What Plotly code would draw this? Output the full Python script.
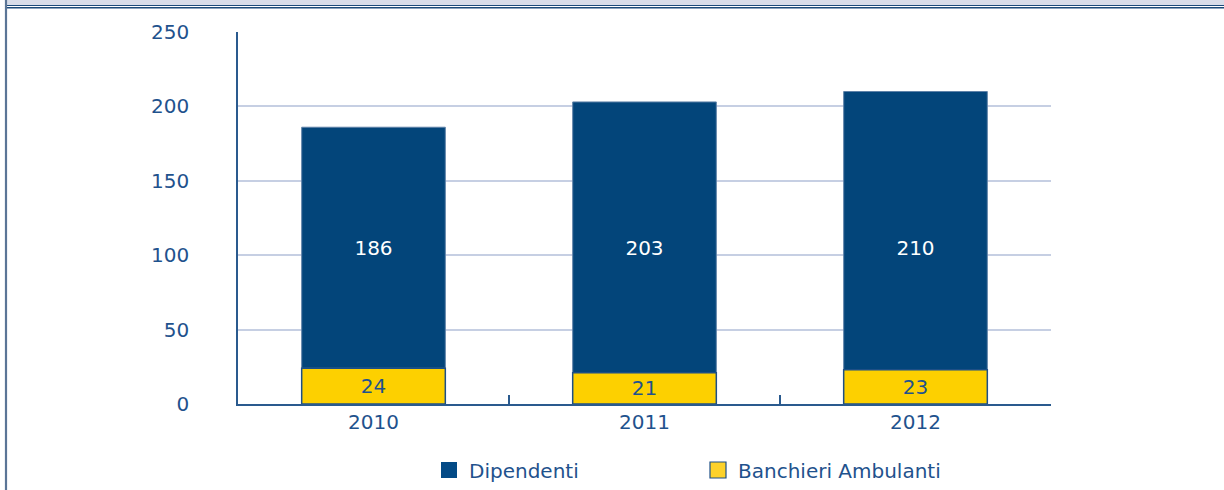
import plotly.graph_objects as go

years = ["2010", "2011", "2012"]
dipendenti = [186, 203, 210]
banchieri = [24, 21, 23]
y_ticks = [0, 50, 100, 150, 200, 250]
label_level = 103.5  # height (axis units) where the Dipendenti labels sit

W, H = 1224, 490
L, R, T, B = 238, 1051, 32, 404

BLUE = "#03457a"
YELLOW = "#fdd000"
TEXT = "#1f528d"
GRID = "#c6cfe3"
AXIS = "#2a5a8e"
FONT = "DejaVu Sans"
FS = 20


def px(x):
    return (x - L) / (R - L)


def py(y):
    return (B - y) / (B - T)


fig = go.Figure()

fig.add_trace(go.Bar(
    x=years,
    y=[d - b for d, b in zip(dipendenti, banchieri)],
    base=banchieri,
    marker=dict(color=BLUE, line=dict(color="#5f82a8", width=1)),
    width=0.53,
    showlegend=False,
    hoverinfo="skip",
))
fig.add_trace(go.Bar(
    x=years,
    y=banchieri,
    text=[str(v) for v in banchieri],
    textposition="inside",
    insidetextanchor="middle",
    textfont=dict(color=TEXT, size=FS, family=FONT),
    marker=dict(color=YELLOW, line=dict(color="#1d4f86", width=1.5)),
    width=0.53,
    showlegend=False,
    hoverinfo="skip",
))
fig.add_trace(go.Scatter(
    x=years,
    y=[label_level] * len(years),
    text=[str(v) for v in dipendenti],
    mode="text",
    textposition="middle center",
    textfont=dict(color="white", size=FS, family=FONT),
    showlegend=False,
    hoverinfo="skip",
))

# legend entries
fig.add_trace(go.Scatter(
    x=[None], y=[None], mode="markers", name="Dipendenti",
    marker=dict(symbol="square", size=17, color="#034a86", line=dict(width=0)),
))
fig.add_trace(go.Scatter(
    x=[None], y=[None], mode="markers", name="Banchieri Ambulanti",
    marker=dict(symbol="square", size=16, color="#fdd22a", line=dict(color="#1d4f86", width=1.2)),
))

shapes = [
    # top band
    dict(type="rect", xref="paper", yref="paper", x0=px(7), x1=px(W), y0=py(5), y1=py(0),
         fillcolor="#d8dde9", line=dict(width=0), layer="above"),
    dict(type="line", xref="paper", yref="paper", x0=px(7), x1=px(W), y0=py(5.5), y1=py(5.5),
         line=dict(color="#1b4a7a", width=1.2), layer="above"),
    dict(type="line", xref="paper", yref="paper", x0=px(7), x1=px(W), y0=py(7.8), y1=py(7.8),
         line=dict(color="#1b4a7a", width=1.6), layer="above"),
    # left border
    dict(type="line", xref="paper", yref="paper", x0=px(6), x1=px(6), y0=py(0), y1=py(H),
         line=dict(color="#5b7596", width=2.2), layer="above"),
]

fig.update_layout(
    width=W, height=H,
    margin=dict(l=L, r=W - R, t=T, b=H - B, pad=0, autoexpand=False),
    paper_bgcolor="white",
    plot_bgcolor="white",
    barmode="overlay",
    bargap=0.47,
    font=dict(family=FONT, size=FS, color=TEXT),
    shapes=shapes,
    showlegend=True,
    legend=dict(
        orientation="h",
        x=px(429), xanchor="left",
        y=py(470), yanchor="middle",
        font=dict(family=FONT, size=FS, color=TEXT),
        bgcolor="rgba(0,0,0,0)",
        entrywidth=224,
        entrywidthmode="pixels",
        itemclick=False,
    ),
    uniformtext=dict(mode="show", minsize=FS),
)

fig.update_xaxes(
    type="category",
    showline=True, linecolor=AXIS, linewidth=1.5,
    ticks="inside", tickson="boundaries", ticklen=9, tickcolor=AXIS, tickwidth=1.5,
    showgrid=False, zeroline=False,
    tickfont=dict(family=FONT, size=FS, color=TEXT),
    ticklabelstandoff=-1,
    mirror=False,
)
fig.update_yaxes(
    range=[0, 250],
    tickvals=y_ticks,
    ticktext=[str(v) for v in y_ticks],
    showline=True, linecolor=AXIS, linewidth=1.5,
    ticks="", showgrid=True, gridcolor=GRID, gridwidth=1.5,
    zeroline=False,
    tickfont=dict(family=FONT, size=FS, color=TEXT),
    ticklabelstandoff=43,
)

fig.write_html(
    "out.html",
    config={"displayModeBar": False},
    post_script="document.body.style.margin='0';document.body.style.overflow='hidden';",
)
